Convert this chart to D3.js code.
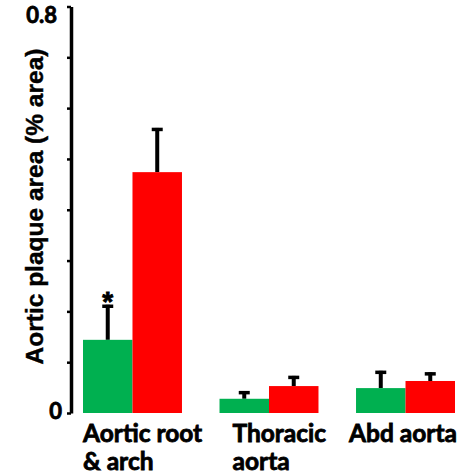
<!DOCTYPE html>
<html><head><meta charset="utf-8">
<script src="https://cdn.jsdelivr.net/npm/d3@7"></script>
<style>body{margin:0;background:#fff}</style>
</head><body>
<svg id="c" width="463" height="475"></svg>
<script>
const categories = ["Aortic root & arch", "Thoracic aorta", "Abd aorta"];
const labelLines = [["Aortic root", "& arch"], ["Thoracic", "aorta"], ["Abd aorta"]];
const series = ["green", "red"];
const greenValues = [0.144, 0.028, 0.049];
const greenErrors = [0.069, 0.015, 0.034];
const redValues = [0.474, 0.053, 0.063];
const redErrors = [0.087, 0.020, 0.017];
const significance = ["*", "", ""];
const tickValues = [0, 0.1, 0.2, 0.3, 0.4, 0.5, 0.6, 0.7, 0.8];
const tickLabels = {0: "0", 0.8: "0.8"};
const colors = {green: "#00B050", red: "#FF0000"};

const svg = d3.select("#c");
const y = d3.scaleLinear().domain([0, 0.8]).range([413, 6.5]);
const x = d3.scaleBand().domain(categories).range([83, 455]).paddingInner(0.275).paddingOuter(0);
const xs = d3.scaleBand().domain(series).range([0, x.bandwidth()]);

const data = [];
categories.forEach((c, i) => {
  data.push({c, s: "green", v: greenValues[i], e: greenErrors[i]});
  data.push({c, s: "red", v: redValues[i], e: redErrors[i]});
});

// error bars
const eb = svg.append("g");
data.forEach(d => {
  const cx = x(d.c) + xs(d.s) + xs.bandwidth() / 2;
  eb.append("line").attr("x1", cx).attr("x2", cx)
    .attr("y1", y(d.v)).attr("y2", y(d.v + d.e))
    .attr("stroke", "#000").attr("stroke-width", 4);
  eb.append("line").attr("x1", cx - 5.5).attr("x2", cx + 5.5)
    .attr("y1", y(d.v + d.e) + 1.5).attr("y2", y(d.v + d.e) + 1.5)
    .attr("stroke", "#000").attr("stroke-width", 3.5);
});

// bars
svg.append("g").selectAll("rect").data(data).join("rect")
  .attr("x", d => x(d.c) + xs(d.s))
  .attr("width", xs.bandwidth())
  .attr("y", d => y(d.v))
  .attr("height", d => y(0) - y(d.v))
  .attr("fill", d => colors[d.s]);

// significance
categories.forEach((c, i) => {
  if (!significance[i]) return;
  svg.append("text")
    .attr("x", x(c) + xs("green") + xs.bandwidth() / 2)
    .attr("y", y(greenValues[i] + greenErrors[i]) + 6)
    .attr("text-anchor", "middle")
    .attr("font-family", "Liberation Sans, Arial, sans-serif")
    .attr("font-weight", "bold").attr("font-size", 28)
    .attr("stroke", "#000").attr("stroke-width", 0.8)
    .text(significance[i]);
});

// y axis
const axis = d3.axisLeft(y).tickValues(tickValues).tickSize(4).tickSizeOuter(0).tickFormat("");
const ga = svg.append("g").attr("transform", "translate(71,0)").call(axis);
ga.select(".domain").attr("stroke", "#000").attr("stroke-width", 3.5);
ga.selectAll(".tick line").attr("stroke", "#000").attr("stroke-width", 2.5);

tickValues.filter(t => tickLabels[t] !== undefined).forEach(t => {
  svg.append("text")
    .attr("x", t === 0 ? 62 : 57)
    .attr("y", y(t) + (t === 0 ? 6 : 16.5))
    .attr("text-anchor", "end")
    .attr("font-family", "Lato, sans-serif")
    .attr("font-weight", "bold").attr("font-size", 22)
    .attr("stroke", "#000").attr("stroke-width", 0.8)
    .text(tickLabels[t]);
});

// y title
svg.append("text")
  .attr("transform", "translate(43," + ((45 + 368) / 2) + ") rotate(-90)")
  .attr("text-anchor", "middle")
  .attr("font-family", "Liberation Sans, Arial, sans-serif")
  .attr("font-weight", "bold").attr("font-size", 24.5)
  .attr("stroke", "#000").attr("stroke-width", 0.4)
  .text("Aortic plaque area (% area)");

// x labels
const labelOffsets = [0, 13, -7];
categories.forEach((c, i) => {
  const t = svg.append("text")
    .attr("font-family", "Lato, sans-serif")
    .attr("font-weight", "bold").attr("font-size", 24.5)
    .attr("stroke", "#000").attr("stroke-width", 0.8);
  labelLines[i].forEach((ln, j) => {
    t.append("tspan").attr("x", x(c) + labelOffsets[i]).attr("y", 442 + j * 28).text(ln);
  });
});
</script>
</body></html>
